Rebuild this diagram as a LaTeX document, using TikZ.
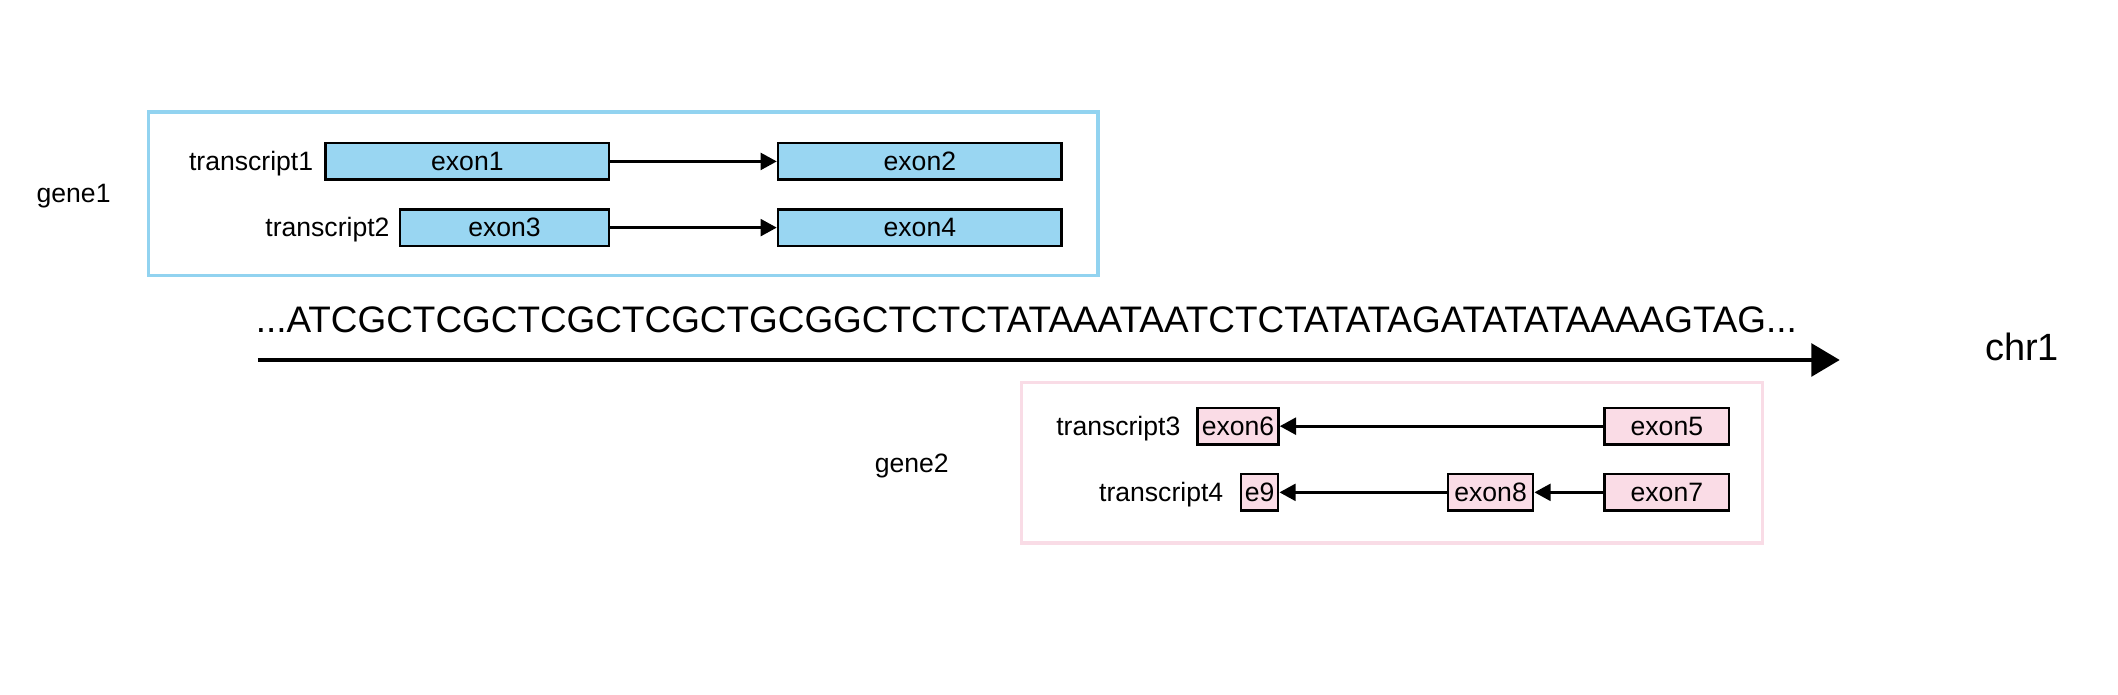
\documentclass[tikz,border=0pt]{standalone}
\usepackage{fontspec}
\setmainfont{Liberation Sans}
\usetikzlibrary{arrows.meta,positioning,calc}
\definecolor{exonblue}{HTML}{99D6F2}
\definecolor{exonpink}{HTML}{FADCE6}
\definecolor{boxblue}{HTML}{92D3F0}
\definecolor{boxpink}{HTML}{F9DCE6}

\begin{document}
\begin{tikzpicture}[
        x=0.02cm, y=-0.02cm,
        font=\fontsize{11.2}{13}\selectfont,
        exon/.style={draw, line width=1.1pt, minimum height=0.54cm, inner sep=0pt},
        exonfwd/.style={exon, fill=exonblue},
        exonrev/.style={exon, fill=exonpink},
        splice/.style={line width=1.2pt, -{Triangle[length=0.24cm, width=0.25cm]}},
        genebox/.style={draw, line width=1.4pt, inner sep=0pt}
    ]
    \useasboundingbox (0,0) rectangle (1568,514);

    \node[genebox, draw=boxblue, minimum width=14.06cm, minimum height=2.42cm] (gene1box) at (461.5,143.5) {};
    \node (gene1) at (54.5,145) {gene1};
    \node[exonfwd, minimum width=4.2cm] (exon1) at (346,119.5) {exon1};
    \node[exonfwd, minimum width=4.2cm] (exon2) at (681,119.5) {exon2};
    \node[exonfwd, minimum width=3.1cm] (exon3) at (373.5,168.5) {exon3};
    \node[exonfwd, minimum width=4.2cm] (exon4) at (681,168.5) {exon4};
    \node[left=0.04cm of exon1, yshift=-1pt] (transcript1) {transcript1};
    \node[left=0.01cm of exon3, yshift=-1pt] (transcript2) {transcript2};
    \draw[splice] (exon1) -- (exon2);
    \draw[splice] (exon3) -- (exon4);

    \node[anchor=base west, inner sep=0pt, font=\fontsize{15.55}{18}\selectfont] (seq) at (189,246.3)
        {...ATCGCTCGCTCGCTCGCTGCGGCTCTCTATAAATAATCTCTATATAGATATATAAAAGTAG...};
    \coordinate (chrstart) at (191,266.5);
    \coordinate (chrend) at (1362,266.5);
    \draw[line width=1.9pt, -{Triangle[length=0.42cm, width=0.48cm]}] (chrstart) -- (chrend);
    \node[anchor=base, inner sep=0pt, font=\fontsize{16}{19}\selectfont] (chr1) at (1497,267) {chr1};

    \node[genebox, draw=boxpink, minimum width=10.98cm, minimum height=2.38cm] (gene2box) at (1030.5,342.5) {};
    \node (gene2) at (675,345) {gene2};
    \node[exonrev, minimum width=1.2cm] (exon6) at (916.5,315.5) {exon6};
    \node[exonrev, minimum width=1.84cm] (exon5) at (1234,315.5) {exon5};
    \node[exonrev, minimum width=0.55cm] (e9) at (932.5,364.5) {e9};
    \node[exonrev, minimum width=1.26cm] (exon8) at (1103.5,364.5) {exon8};
    \node[exonrev, minimum width=1.84cm] (exon7) at (1234,364.5) {exon7};
    \node[left=0.11cm of exon6, yshift=-1pt] (transcript3) {transcript3};
    \node[left=0.12cm of e9, yshift=-1pt] (transcript4) {transcript4};
    \draw[splice] (exon5) -- (exon6);
    \draw[splice] (exon7) -- (exon8);
    \draw[splice] (exon8) -- (e9);
\end{tikzpicture}
\end{document}
